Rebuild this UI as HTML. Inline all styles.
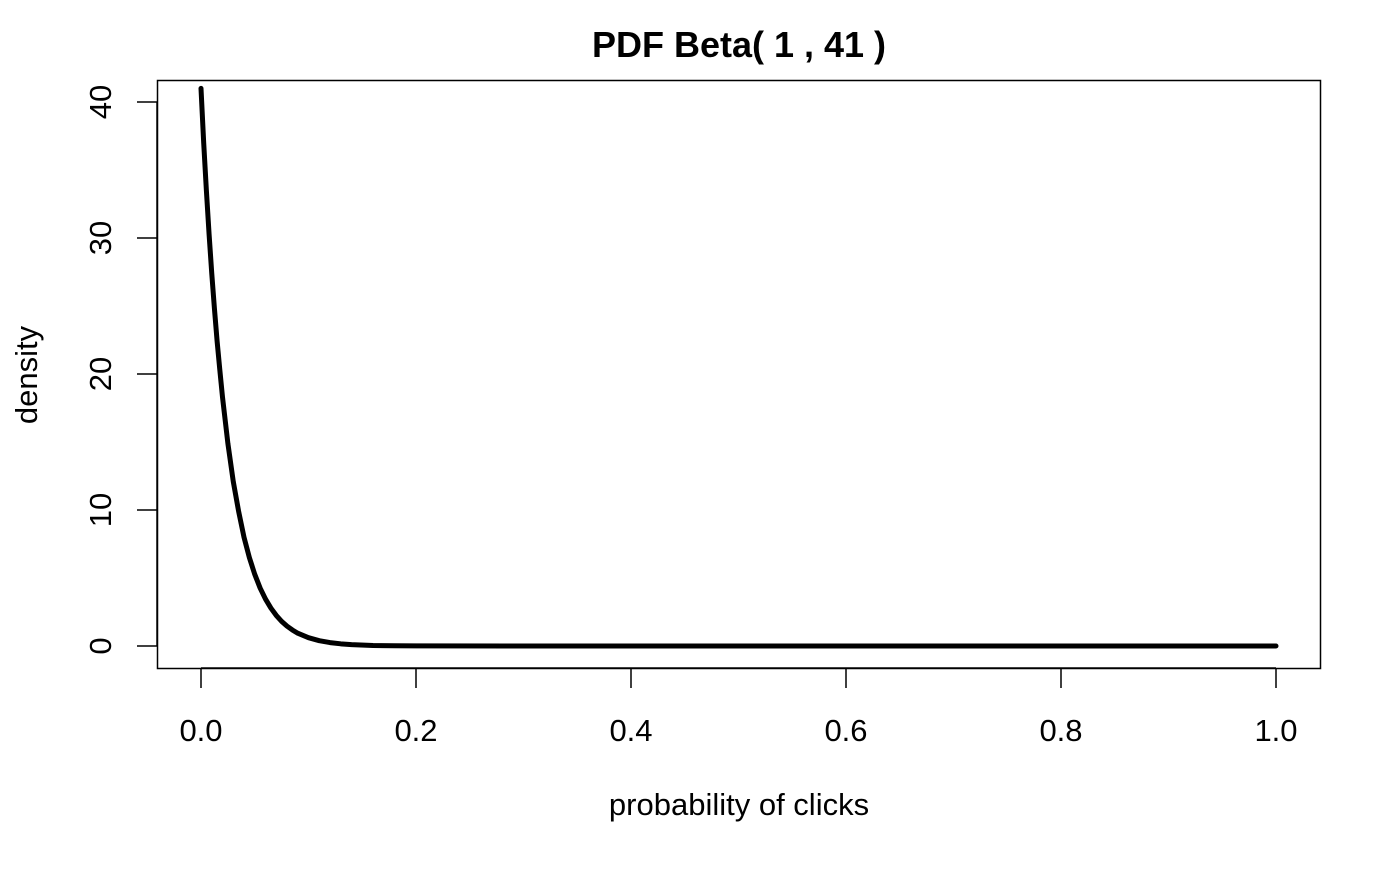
<!DOCTYPE html>
<html><head><meta charset="utf-8"><style>
body{margin:0;background:#fff}
svg text{font-family:"Liberation Sans",Arial,sans-serif;fill:#000}
</style></head><body>
<svg id="c" width="1400" height="865" xmlns="http://www.w3.org/2000/svg">
<rect width="1400" height="865" fill="#fff"/>
<text x="739" y="57" font-size="36" font-weight="bold" text-anchor="middle">PDF Beta( 1 , 41 )</text>
<text x="739" y="815" font-size="31" text-anchor="middle">probability of clicks</text>
<text transform="translate(37,375) rotate(-90)" font-size="31" text-anchor="middle">density</text>
<rect x="157.5" y="80.5" width="1163" height="588" fill="none" stroke="#000" stroke-width="1.5"/>
<g id="axes"></g>
<g id="series"></g>
</svg>
<script>
const xTicks=[0,0.2,0.4,0.6,0.8,1.0];
const xTickLabels=["0.0","0.2","0.4","0.6","0.8","1.0"];
const yTicks=[0,10,20,30,40];
const yTickLabels=["0","10","20","30","40"];
const xVals=[0,0.0025,0.005,0.0075,0.01,0.0125,0.015,0.0175,0.02,0.025,0.03,0.035,0.04,0.045,0.05,0.055,0.06,0.065,0.07,0.075,0.08,0.085,0.09,0.1,0.11,0.12,0.13,0.14,0.16,0.18,0.2,0.3,1.0];
const yVals=[41,37.0,33.5,30.3,27.4,24.8,22.4,20.3,18.3,14.9,12.1,9.9,8.0,6.5,5.27,4.26,3.45,2.79,2.25,1.81,1.46,1.18,0.94,0.61,0.39,0.25,0.16,0.10,0.04,0.016,0.006,0,0];
const NS="http://www.w3.org/2000/svg";
const sx=v=>201+v*1075;
const sy=v=>646-v*13.6;
const ax=document.getElementById('axes');
function mk(t,a){const e=document.createElementNS(NS,t);for(const k in a)e.setAttribute(k,a[k]);return e;}
const xl=mk('line',{x1:sx(xTicks[0]),x2:sx(xTicks[xTicks.length-1]),y1:668,y2:668,stroke:'#000','stroke-width':1.5});


ax.appendChild(xl);
xTicks.forEach((t,i)=>{
 const l=mk('line',{x1:sx(t),x2:sx(t),y1:668,y2:688,stroke:'#000','stroke-width':1.5});
 
 
 ax.appendChild(l);
 const tx=mk('text',{x:sx(t),y:741,'font-size':31,'text-anchor':'middle'});
 tx.textContent=xTickLabels[i];
 
 
 ax.appendChild(tx);
});
const yl=mk('line',{x1:157,x2:157,y1:sy(yTicks[0]),y2:sy(yTicks[yTicks.length-1]),stroke:'#000','stroke-width':1.5});


ax.appendChild(yl);
yTicks.forEach((t,i)=>{
 const l=mk('line',{x1:137,x2:157,y1:sy(t),y2:sy(t),stroke:'#000','stroke-width':1.5});
 
 
 ax.appendChild(l);
 const tx=mk('text',{transform:`translate(111,${sy(t)}) rotate(-90)`,'font-size':31,'text-anchor':'middle'});
 tx.textContent=yTickLabels[i];
 
 
 ax.appendChild(tx);
});
const p=mk('polyline',{points:xVals.map((x,i)=>sx(x)+','+sy(yVals[i])).join(' '),fill:'none',stroke:'#000','stroke-width':5,'stroke-linecap':'round','stroke-linejoin':'round'});


document.getElementById('series').appendChild(p);
</script>
</body></html>
